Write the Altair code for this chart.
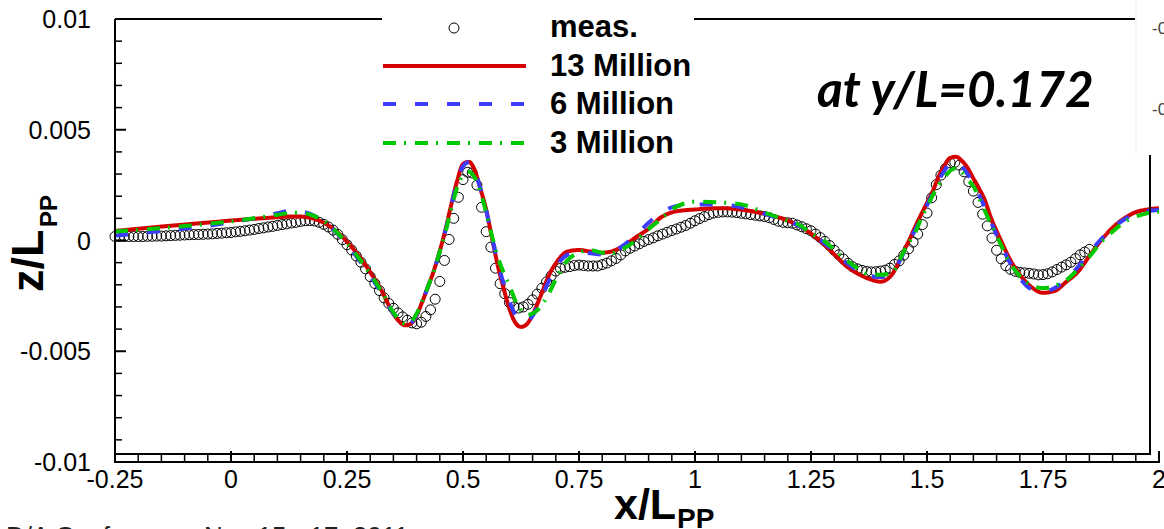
import altair as alt
import pandas as pd

# ---------------------------------------------------------------------------
# Wave cut z/Lpp along x/Lpp at y/L = 0.172 (values stored in units of 1e-4)
# ---------------------------------------------------------------------------
Z_UNIT = 1e-4

# measurement stations: x/Lpp = -0.25 ... 1.85, every 0.01
MEAS_X0 = -0.25
MEAS_DX = 0.01
MEAS_Z = [
    1.8, 1.8, 1.8, 1.8, 1.8, 1.8, 1.8, 1.9, 1.9, 2.0,
    2.0, 2.1, 2.2, 2.3, 2.4, 2.5, 2.6, 2.7, 2.7, 2.8,
    2.9, 3.0, 3.2, 3.3, 3.5, 3.6, 3.9, 4.1, 4.4, 4.7,
    5.0, 5.4, 5.7, 6.1, 6.4, 6.8, 7.2, 7.5, 7.9, 8.2,
    8.6, 8.9, 9.0, 8.8, 8.2, 7.3, 6.1, 4.7, 2.8, 0.4,
    -1.9, -4.3, -7.0, -9.8, -12.8, -16.3, -19.4, -22.6, -25.9, -28.4,
    -30.6, -32.7, -34.5, -36.0, -37.2, -37.6, -36.9, -34.3, -31.3, -26.5,
    -18.5, -9.0, 0.5, 10.0, 19.5, 27.5, 30.8, 30.5, 25.0, 15.0,
    4.0, -3.0, -12.5, -19.5, -24.0, -28.0, -30.0, -30.5, -30.0, -28.8,
    -26.8, -24.2, -21.5, -18.7, -16.0, -13.8, -12.6, -12.1, -11.8, -11.3,
    -11.1, -11.3, -11.5, -11.5, -11.5, -10.9, -10.2, -9.2, -8.1, -6.5,
    -4.7, -3.5, -2.5, -1.5, -0.4, 0.4, 1.2, 2.1, 2.9, 3.7,
    4.5, 5.2, 6.0, 6.8, 7.8, 8.9, 9.9, 10.8, 11.7, 12.4,
    12.7, 12.9, 12.9, 12.8, 12.6, 12.3, 12.0, 11.7, 11.4, 11.1,
    10.8, 10.3, 9.5, 8.7, 8.2, 8.0, 7.8, 7.0, 6.2, 5.3,
    4.4, 2.9, 1.3, -0.4, -2.3, -4.4, -6.5, -8.4, -10.3, -11.9,
    -12.8, -13.5, -14.0, -14.2, -14.1, -13.8, -13.4, -12.5, -10.8, -9.2,
    -6.6, -3.8, -0.7, 2.9, 7.2, 12.4, 19.3, 25.2, 29.5, 32.5,
    35.0, 35.3, 34.0, 31.0, 26.6, 22.3, 17.2, 11.9, 6.6, 1.1,
    -4.4, -8.3, -11.4, -13.0, -13.9, -14.4, -14.6, -14.8, -15.1, -15.5,
    -15.4, -15.0, -14.2, -13.1, -12.0, -11.0, -9.8, -8.2, -6.5, -5.2,
    -4.0,
]

# CFD output stations
CFD_X = [
    -0.25, -0.2, -0.15, -0.1, -0.05, 0.0, 0.05, 0.1,
    0.125, 0.15, 0.175, 0.2, 0.225, 0.25, 0.275, 0.3, 0.325, 0.35,
    0.3625, 0.375, 0.3875, 0.4, 0.4125, 0.425, 0.4375, 0.45, 0.4625, 0.475,
    0.4875, 0.5, 0.5125, 0.525, 0.5375, 0.55, 0.5625, 0.575, 0.5875, 0.6,
    0.6125, 0.625, 0.6375, 0.65, 0.6625, 0.675, 0.6875, 0.7,
    0.725, 0.75, 0.775, 0.8, 0.825, 0.85, 0.875, 0.9, 0.925, 0.95, 0.975, 1.0,
    1.05, 1.1, 1.15, 1.2,
    1.225, 1.25, 1.275, 1.3, 1.325, 1.35, 1.375, 1.4, 1.425, 1.45,
    1.4625, 1.475, 1.4875, 1.5, 1.5125, 1.525, 1.5375, 1.55, 1.5625, 1.575,
    1.5875, 1.6, 1.6125, 1.625, 1.6375, 1.65, 1.6625, 1.675,
    1.7, 1.725, 1.75, 1.775, 1.8, 1.825, 1.85, 1.875, 1.9, 1.925, 1.95, 1.975, 2.0,
]

CFD_13M = [
    4.3, 5.3, 6.3, 7.2, 8.1, 9.0, 9.8, 10.5,
    10.8, 10.8, 10.0, 8.0, 4.5, -0.5, -6.8, -14.3, -22.8, -33.2,
    -36.5, -38.3, -37.6, -33.9, -27.5, -20.6, -13.4, -4.7, 5.2, 16.5,
    27.0, 34.5, 35.5, 31.9, 23.4, 13.9, 1.1, -11.4, -21.5, -30.8,
    -37.0, -39.0, -37.8, -33.5, -27.5, -21.0, -14.7, -10.3,
    -5.0, -4.3, -5.0, -5.5, -4.6, -1.8, 1.8, 5.3, 10.2, 12.7, 13.6, 14.0,
    14.6, 13.9, 12.0, 9.0,
    6.5, 3.1, -1.1, -6.2, -11.3, -14.9, -17.3, -18.6, -15.2, -4.8,
    0.6, 6.4, 11.8, 17.0, 22.4, 28.8, 33.8, 37.3, 37.8, 36.0,
    32.8, 28.0, 23.4, 18.0, 10.5, 4.3, -1.4, -7.0,
    -15.4, -21.0, -23.6, -22.8, -18.7, -14.2, -7.0, 0.0, 5.8, 10.0, 12.8, 14.0, 14.6,
]

CFD_6M = [
    2.2, 3.2, 4.3, 5.4, 6.6, 8.2, 10.0, 12.3,
    13.3, 13.1, 11.6, 8.6, 4.0, -1.8, -8.5, -16.0, -24.0, -33.0,
    -36.3, -38.0, -37.3, -33.6, -27.4, -20.6, -13.5, -5.0, 4.8, 16.0,
    26.5, 33.5, 35.3, 31.5, 23.5, 13.5, 1.5, -10.0, -19.5, -27.5,
    -33.5, -36.3, -36.5, -34.0, -29.0, -23.0, -17.0, -12.0,
    -6.5, -5.3, -5.8, -6.3, -5.0, -1.5, 3.0, 8.0, 12.5, 15.0, 16.0, 16.3,
    16.3, 15.0, 12.0, 8.6,
    6.6, 3.0, -0.5, -5.0, -9.8, -13.5, -16.0, -16.5, -14.5, -5.5,
    -0.2, 5.0, 10.5, 16.0, 21.5, 27.0, 31.5, 35.0, 35.5, 33.5,
    30.0, 25.5, 20.5, 14.8, 8.5, 2.5, -3.0, -8.5,
    -17.0, -22.0, -23.0, -21.5, -17.5, -12.0, -5.5, 0.5, 5.5, 9.5, 12.0, 13.3, 13.8,
]

CFD_3M = [
    4.1, 4.8, 5.6, 6.5, 7.5, 8.6, 10.0, 11.6,
    12.4, 12.5, 11.4, 8.7, 4.3, -1.2, -7.8, -15.2, -23.2, -32.5,
    -35.8, -37.5, -36.8, -33.0, -27.2, -20.6, -13.5, -5.0, 4.0, 14.5,
    24.0, 29.5, 31.0, 28.5, 22.0, 12.5, 2.0, -7.5, -14.5, -20.3,
    -27.0, -31.5, -33.6, -33.0, -31.0, -27.5, -23.0, -17.5,
    -9.0, -5.5, -4.3, -5.5, -5.6, -3.2, 0.5, 5.2, 9.4, 14.0, 16.6, 17.5,
    17.2, 16.3, 12.7, 8.8,
    7.0, 3.2, 0.5, -4.2, -8.7, -12.5, -15.3, -15.5, -14.3, -5.0,
    -0.5, 3.7, 10.0, 15.0, 20.5, 25.0, 28.5, 31.5, 32.6, 31.0,
    27.5, 24.5, 19.0, 13.3, 7.5, 2.1, -3.3, -8.7,
    -16.0, -20.2, -21.5, -20.5, -18.0, -13.0, -7.3, -0.8, 4.0, 8.3, 10.8, 12.3, 13.0,
]

assert len(CFD_X) == len(CFD_13M) == len(CFD_6M) == len(CFD_3M)

SERIES = ["meas.", "13 Million", "6 Million", "3 Million"]
COLORS = ["black", "#d40000", "#3c3cff", "#00c800"]
DASHES = [None, [1, 0], [13, 19], [13, 8, 2, 9]]

X_MAJOR = [-0.25, 0, 0.25, 0.5, 0.75, 1, 1.25, 1.5, 1.75, 2]
X_LABELS = ["-0.25", "0", "0.25", "0.5", "0.75", "1", "1.25", "1.5", "1.75", "2"]
Y_MAJOR = [-0.01, -0.005, 0, 0.005, 0.01]
Y_LABELS = ["-0.01", "-0.005", "0", "0.005", "0.01"]
X_MINOR = [round(-0.25 + 0.05 * i, 2) for i in range(46) if i % 5]
Y_MINOR = [round(-0.01 + 0.001 * i, 3) for i in range(21) if i % 5]

# ---------------------------------------------------------------------------
# Layout (canvas pixels)
# ---------------------------------------------------------------------------
PAD_L, PAD_T = 115, 19
PW, PH = 1044, 443
FONT = "Liberation Sans"

meas_df = pd.DataFrame({
    "x": [round(MEAS_X0 + MEAS_DX * i, 2) for i in range(len(MEAS_Z))],
    "z": [v * Z_UNIT for v in MEAS_Z],
})


def cfd_df(values):
    return pd.DataFrame({"x": CFD_X, "z": [v * Z_UNIT for v in values]})


xs = alt.Scale(domain=[-0.25, 2], nice=False, zero=False)
ys = alt.Scale(domain=[-0.01, 0.01], nice=False, zero=False)

one_row = alt.Data(values=[{}])


def px(X):
    return X - PAD_L


def py(Y):
    return Y - PAD_T


def seg(x1, y1, x2, y2, width=2, color="black"):
    """Straight frame segment between two canvas points."""
    return alt.Chart(one_row).mark_rule(color=color, strokeWidth=width).encode(
        x=alt.value(px(x1)), x2=alt.value(px(x2)),
        y=alt.value(py(y1)), y2=alt.value(py(y2)),
    )


def text(t, X, Y, size, weight="bold", align="left", angle=0,
         font=FONT, style="normal", color="black"):
    return alt.Chart(alt.Data(values=[{"t": t}])).mark_text(
        font=font, fontSize=size, fontWeight=weight, fontStyle=style,
        align=align, baseline="alphabetic", angle=angle, color=color,
    ).encode(x=alt.value(px(X)), y=alt.value(py(Y)), text="t:N")


# measurement circles
meas = alt.Chart(meas_df).mark_point(
    shape="circle", filled=False, size=100, color="black",
    strokeWidth=1, opacity=1,
).encode(
    x=alt.X("x:Q", scale=xs, axis=None),
    y=alt.Y("z:Q", scale=ys, axis=None),
)


def cfd_line(values, color, dash):
    return alt.Chart(cfd_df(values)).mark_line(
        color=color, strokeWidth=4, strokeDash=dash, interpolate="monotone",
    ).encode(
        x=alt.X("x:Q", scale=xs, axis=None),
        y=alt.Y("z:Q", scale=ys, axis=None),
    )


red = cfd_line(CFD_13M, COLORS[1], DASHES[1])
blue = cfd_line(CFD_6M, COLORS[2], DASHES[2])
green = cfd_line(CFD_3M, COLORS[3], DASHES[3])

# inward ticks
y_major = alt.Chart(pd.DataFrame({"v": Y_MAJOR})).mark_rule(
    color="black", strokeWidth=2).encode(
    y=alt.Y("v:Q", scale=ys, axis=None), x=alt.value(0), x2=alt.value(11))
y_minor = alt.Chart(pd.DataFrame({"v": Y_MINOR})).mark_rule(
    color="black", strokeWidth=1.5).encode(
    y=alt.Y("v:Q", scale=ys, axis=None), x=alt.value(0), x2=alt.value(7))
x_major = alt.Chart(pd.DataFrame({"v": X_MAJOR})).mark_rule(
    color="black", strokeWidth=2).encode(
    x=alt.X("v:Q", scale=xs, axis=None), y=alt.value(py(462)), y2=alt.value(py(451)))
x_minor = alt.Chart(pd.DataFrame({"v": X_MINOR})).mark_rule(
    color="black", strokeWidth=1.5).encode(
    x=alt.X("v:Q", scale=xs, axis=None), y=alt.value(py(462)), y2=alt.value(py(454)))

# tick labels
x_lab = alt.Chart(pd.DataFrame({"v": X_MAJOR, "t": X_LABELS})).mark_text(
    font=FONT, fontSize=25, align="center", baseline="alphabetic", color="black",
).encode(x=alt.X("v:Q", scale=xs, axis=None), y=alt.value(py(488)), text="t:N")
y_lab = alt.Chart(pd.DataFrame({"v": Y_MAJOR, "t": Y_LABELS})).mark_text(
    font=FONT, fontSize=25, align="right", baseline="alphabetic", color="black",
    dy=9,
).encode(y=alt.Y("v:Q", scale=ys, axis=None), x=alt.value(px(91)), text="t:N")

frame = [
    seg(115, 19, 115, 463),          # left axis
    seg(114, 462, 1160, 462),        # x axis
    seg(115, 454, 1151, 454),        # plot frame bottom
    seg(1150, 155, 1150, 455),       # plot frame right
    seg(115, 19, 382, 19),           # plot frame top (left of legend)
    seg(694, 19, 1135, 19),          # plot frame top (right of legend)
    seg(1136, 0, 1136, 155, 1, "#eeeeee"),
]

# legend
leg_sym = [
    alt.Chart(one_row).mark_point(shape="circle", filled=False, size=100,
                                  color="black", strokeWidth=1, opacity=1).encode(
        x=alt.value(px(454)), y=alt.value(py(28))),
]
for (ly, c, d) in [(66, COLORS[1], DASHES[1]), (104, COLORS[2], DASHES[2]),
                   (143, COLORS[3], DASHES[3])]:
    leg_sym.append(alt.Chart(one_row).mark_rule(
        color=c, strokeWidth=4, strokeDash=d).encode(
        x=alt.value(px(383)), x2=alt.value(px(526)),
        y=alt.value(py(ly))))
leg_txt = [text(s, 550, b, 31) for s, b in zip(SERIES, [37, 76, 114, 153])]

labels = [
    text("at y/L=0.172", 817, 107, 49.5, font="Lato", style="italic"),
    # axis titles with subscripts
    text("z/L", 43, 292, 45, angle=270),
    text("PP", 57, 227, 24, angle=270),
    text("x/L", 614, 519, 43),
    text("PP", 677, 528, 28),
    # neighbouring slide content at the edges
    text("-0.4", 1152, 34, 17, weight="normal", color="#444444"),
    text("-0.4", 1152, 115, 17, weight="normal", color="#444444"),
    text("D/A Conference, Nov 15 - 17, 2011", 6, 545, 26, weight="normal",
         color="#222222"),
]

chart = alt.layer(
    meas, red, blue, green,
    y_major, y_minor, x_major, x_minor, x_lab, y_lab,
    *frame, *leg_sym, *leg_txt, *labels,
).properties(
    width=PW, height=PH,
    padding={"left": PAD_L, "top": PAD_T, "right": 1164 - PAD_L - PW,
             "bottom": 529 - PAD_T - PH},
    autosize=alt.AutoSizeParams(type="none"),
    background="white",
).configure_view(stroke=None)

chart.save("out.html", embed_options={"renderer": "svg", "actions": False})
